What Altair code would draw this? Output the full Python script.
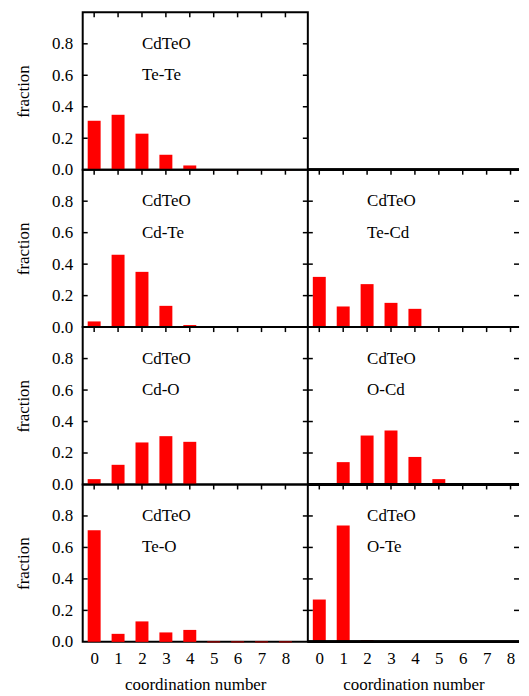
import altair as alt
import pandas as pd

cn = [0, 1, 2, 3, 4, 5, 6, 7, 8]
te_te = [0.311, 0.349, 0.229, 0.095, 0.027, 0.0, 0.0, 0.0, 0.0]
cd_te = [0.036, 0.459, 0.351, 0.135, 0.013, 0.0, 0.0, 0.0, 0.0]
te_cd = [0.319, 0.131, 0.273, 0.154, 0.116, 0.0, 0.0, 0.0, 0.0]
cd_o = [0.034, 0.125, 0.267, 0.307, 0.271, 0.0, 0.0, 0.0, 0.0]
o_cd = [0.0, 0.142, 0.311, 0.343, 0.175, 0.034, 0.0, 0.0, 0.0]
te_o = [0.709, 0.051, 0.130, 0.060, 0.076, 0.0, 0.0, 0.0, 0.0]
o_te = [0.269, 0.739, 0.011, 0.0, 0.0, 0.0, 0.0, 0.0, 0.0]

y_ticks = [0.2, 0.4, 0.6, 0.8]
y_labels = [0.0, 0.2, 0.4, 0.6, 0.8]
x_ticks = [0, 1, 2, 3, 4, 5, 6, 7, 8]

FONT = "Liberation Serif"
FS = 17
WL = 226
WR = 212
H = 158
TL = 5
PX = 24.0  # pixels per coordination-number unit


def panel(label, vals, show_y, show_x, W, right):
    x0 = -11.5 / PX
    xscale = alt.Scale(domain=[x0, x0 + W / PX], nice=False, zero=False, padding=0)
    yscale = alt.Scale(domain=[0, 1], nice=False, padding=0)
    df = pd.DataFrame({"cn": cn, "frac": vals})
    if show_y:
        yax = alt.Axis(values=y_labels, format=".1f", ticks=False, domain=False, grid=False,
                       labelPadding=10, title="fraction", titlePadding=19)
    else:
        yax = None
    if show_x:
        xax = alt.Axis(values=x_ticks, format="d", ticks=False, domain=False, grid=False,
                       labelPadding=9, labelAngle=0,
                       title="coordination number", titlePadding=10)
    else:
        xax = None

    def X(f="cn"):
        return alt.X(f"{f}:Q", scale=xscale, axis=xax, title="coordination number")

    def Y(f="frac"):
        return alt.Y(f"{f}:Q", scale=yscale, axis=yax, title="fraction")

    bars = alt.Chart(df).mark_bar(size=13, color="#ff0000").encode(x=X(), y=Y())
    zeros = alt.Chart(df).transform_filter(alt.datum.frac == 0).mark_bar(
        size=13, color="#ff0000", stroke="#9a0000", strokeWidth=1.2
    ).encode(x=X(), y=Y())

    tdf = pd.DataFrame({"cn": [2, 2], "frac": [0.8, 0.6], "txt": ["CdTeO", label]})
    txt = alt.Chart(tdf).mark_text(align="left", baseline="middle", font=FONT, fontSize=FS,
                                   color="black").encode(x=X(), y=Y(), text="txt:N")

    ydf = pd.DataFrame({"frac": y_ticks})
    xdf = pd.DataFrame({"cn": x_ticks})
    lt = alt.Chart(ydf).mark_rule(color="black", strokeWidth=1.5).encode(
        y=Y(), x=alt.value(0), x2=alt.value(TL))
    rt = alt.Chart(ydf).mark_rule(color="black", strokeWidth=1.5).encode(
        y=Y(), x=alt.value(W - TL), x2=alt.value(W))
    tt = alt.Chart(xdf).mark_rule(color="black", strokeWidth=1.5).encode(
        x=X(), y=alt.value(0), y2=alt.value(TL))
    layers = [bars, zeros, txt, lt, rt, tt]
    props = dict(width=W, height=H)
    if right:
        top = alt.Chart(xdf).mark_rule(color="black", strokeWidth=2).encode(
            x=alt.value(0), x2=alt.value(W), y=alt.value(0))
        bot = alt.Chart(xdf).mark_rule(color="black", strokeWidth=2).encode(
            x=alt.value(0), x2=alt.value(W), y=alt.value(H))
        layers += [top, bot]
        props["view"] = alt.ViewBackground(stroke="transparent")
    return alt.layer(*layers).properties(**props)


empty = alt.Chart(pd.DataFrame({"a": [0]})).mark_point(opacity=0).encode(
    x=alt.X("a:Q", axis=None), y=alt.Y("a:Q", axis=None)
).properties(width=WR, height=H, view=alt.ViewBackground(stroke="transparent"))

chart = alt.concat(
    panel("Te-Te", te_te, True, False, WL, False), empty,
    panel("Cd-Te", cd_te, True, False, WL, False), panel("Te-Cd", te_cd, False, False, WR, True),
    panel("Cd-O", cd_o, True, False, WL, False), panel("O-Cd", o_cd, False, False, WR, True),
    panel("Te-O", te_o, True, True, WL, False), panel("O-Te", o_te, False, True, WR, True),
    columns=2, spacing=0, bounds="flush",
).properties(
    padding={"left": 5, "top": 1, "right": 0, "bottom": 0}
).configure_view(stroke="black", strokeWidth=2).configure_axis(
    labelFont=FONT, labelFontSize=FS, labelColor="black",
    titleFont=FONT, titleFontSize=FS, titleFontWeight="normal", titleColor="black",
)

chart.save("out.html", embed_options={"renderer": "svg", "actions": False})
